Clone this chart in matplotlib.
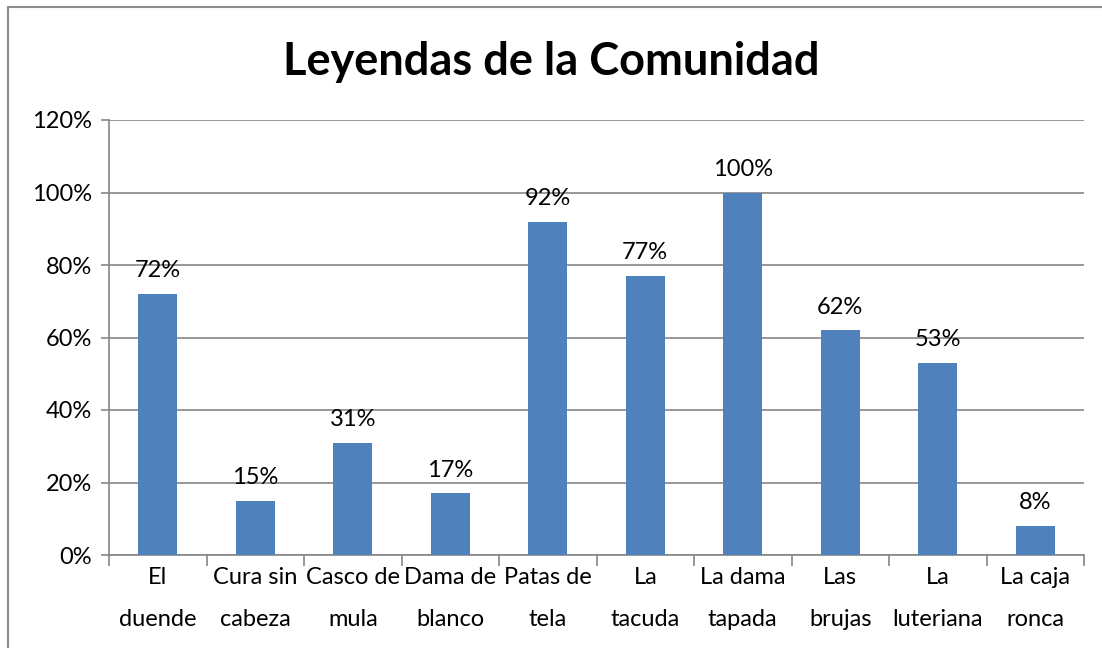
import numpy as np
import matplotlib.pyplot as plt
from matplotlib.patches import Rectangle
from matplotlib.ticker import FuncFormatter, FixedLocator

plt.rcParams['font.family'] = ['Lato', 'DejaVu Sans']

categories = ['El\nduende', 'Cura sin\ncabeza', 'Casco de\nmula', 'Dama de\nblanco',
              'Patas de\ntela', 'La\ntacuda', 'La dama\ntapada', 'Las\nbrujas',
              'La\nluteriana', 'La caja\nronca']
values = [72, 15, 31, 17, 92, 77, 100, 62, 53, 8]

bar_color = '#4F81BD'
grid_color = '#868686'

fig = plt.figure(figsize=(11.02, 6.48), dpi=100)
fig.patches.append(Rectangle((8 / 1102, -0.1), 1.2, 1 - 7 / 648 + 0.1,
                             transform=fig.transFigure, fill=False,
                             edgecolor='#8c8c8c', linewidth=1.5))
ax = fig.add_axes([109 / 1102, 1 - 555 / 648, (1084 - 109) / 1102, (555 - 120) / 648])

x = np.arange(len(categories))
bars = ax.bar(x, values, width=0.4, color=bar_color, zorder=3)
for xi, v in zip(x, values):
    ax.text(xi, v + 3.5, f'{v}%', ha='center', va='bottom', fontsize=17)

ax.set_xlim(-0.5, len(categories) - 0.5)
ax.set_ylim(0, 120)
ax.set_yticks(np.arange(0, 121, 20))
ax.yaxis.set_major_formatter(FuncFormatter(lambda v, p: f'{v:.0f}%'))
ax.yaxis.grid(True, color=grid_color, linewidth=1.2, zorder=0)

ax.set_xticks(x)
ax.set_xticklabels(categories, fontsize=17, linespacing=2.2)
ax.tick_params(axis='x', which='major', length=0, pad=9)
ax.xaxis.set_minor_locator(FixedLocator(np.arange(-0.5, len(categories), 1)))
ax.tick_params(axis='x', which='minor', length=8, color=grid_color, width=1.2)
ax.tick_params(axis='y', length=6, color=grid_color, width=1.2, labelsize=17, pad=6)

for side in ['top', 'right']:
    ax.spines[side].set_visible(False)
for side in ['left', 'bottom']:
    ax.spines[side].set_color(grid_color)
    ax.spines[side].set_linewidth(1.2)

fig.text(0.5, 1 - 62 / 648, 'Leyendas de la Comunidad', ha='center', va='center',
         fontsize=32.5, fontweight='bold')

fig.savefig('out.png', dpi=100)
